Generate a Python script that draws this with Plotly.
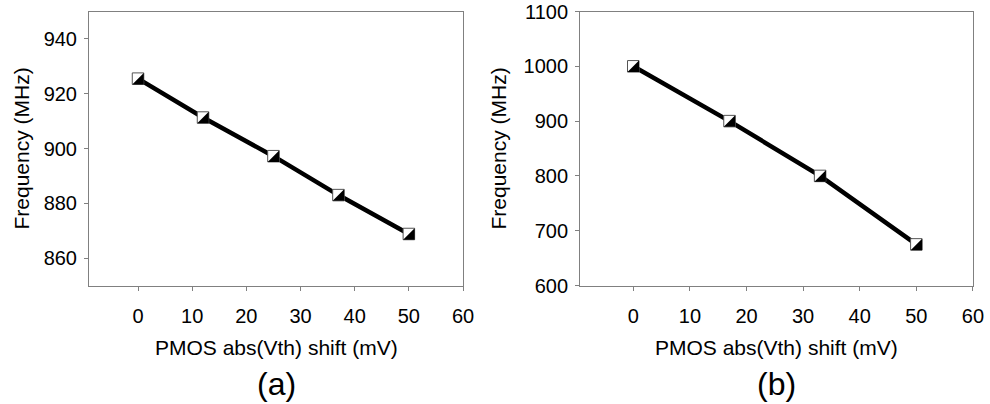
import plotly.graph_objects as go

# ---- data ----
shift_a = [0, 12, 25, 37, 50]
freq_a = [925.5, 911.3, 897.2, 883.0, 868.8]
shift_b = [0, 17, 33, 50]
freq_b = [1000, 900, 800, 675]
x_ticks = [0, 10, 20, 30, 40, 50, 60]
y_ticks_a = [860, 880, 900, 920, 940]
y_ticks_b = [600, 700, 800, 900, 1000, 1100]
x_title = "PMOS abs(Vth) shift (mV)"
y_title = "Frequency (MHz)"
captions = ["(a)", "(b)"]

FONT = "Liberation Sans, Arial, sans-serif"
AXC = "#808080"
R = 5.75  # half side of marker square in px

fig = go.Figure()
panels = [
    (shift_a, freq_a, "x", "y"),
    (shift_b, freq_b, "x2", "y2"),
]
for xs, ys, xa, ya in panels:
    fig.add_trace(go.Scatter(
        x=xs, y=ys, xaxis=xa, yaxis=ya, mode="lines+markers",
        line=dict(color="black", width=4.5),
        marker=dict(symbol="square", size=2 * R, color="white",
                    line=dict(color="#555555", width=1)),
        showlegend=False, hoverinfo="x+y"))
    for xv, yv in zip(xs, ys):
        fig.add_shape(
            type="path", xref=xa, yref=ya,
            xsizemode="pixel", ysizemode="pixel", xanchor=xv, yanchor=yv,
            path=f"M {R} {R} L {R} {-R} L {-R} {-R} Z",
            fillcolor="black", line=dict(width=0), layer="above")

ydom = [0.2933, 0.9715]
common_x = dict(tickvals=x_ticks, ticks="outside", ticklen=4, tickcolor=AXC,
                showline=True, linecolor=AXC, linewidth=1, mirror=True,
                showgrid=False, zeroline=False, automargin=False,
                tickfont=dict(size=20, color="black", family=FONT),
                ticklabelstandoff=8)
common_y = dict(ticks="outside", ticklen=4, tickcolor=AXC,
                showline=True, linecolor=AXC, linewidth=1, mirror=True,
                showgrid=False, zeroline=False, automargin=False,
                tickfont=dict(size=20, color="black", family=FONT),
                ticklabelstandoff=3)

fig.update_layout(
    template="none",
    width=990, height=404, margin=dict(l=0, r=0, t=0, b=0, pad=0),
    paper_bgcolor="white", plot_bgcolor="white",
    font=dict(family=FONT, color="black", size=20),
    xaxis=dict(domain=[0.0899, 0.4677], range=[-9.05, 60], anchor="y", **common_x),
    yaxis=dict(domain=ydom, range=[850, 950], tickvals=y_ticks_a, anchor="x", **common_y),
    xaxis2=dict(domain=[0.5859, 0.9828], range=[-9.4, 60], anchor="y2", **common_x),
    yaxis2=dict(domain=ydom, range=[600, 1100], tickvals=y_ticks_b, anchor="x2", **common_y),
)

ymid = (ydom[0] + ydom[1]) / 2
for xc, xt in [((0.0899 + 0.4677) / 2, 22 / 990), ((0.5859 + 0.9828) / 2, 499 / 990)]:
    fig.add_annotation(text=y_title, x=xt, y=ymid, xref="paper", yref="paper",
                       textangle=-90, showarrow=False, font=dict(size=21),
                       xanchor="center", yanchor="middle")
    fig.add_annotation(text=x_title, x=xc, y=1 - 347 / 404, xref="paper", yref="paper",
                       showarrow=False, font=dict(size=21),
                       xanchor="center", yanchor="middle")
for xc, cap in zip([(0.0899 + 0.4677) / 2, (0.5859 + 0.9828) / 2], captions):
    fig.add_annotation(text=cap, x=xc, y=1 - 384 / 404, xref="paper", yref="paper",
                       showarrow=False, font=dict(size=32),
                       xanchor="center", yanchor="middle")

fig.write_html("out.html")
